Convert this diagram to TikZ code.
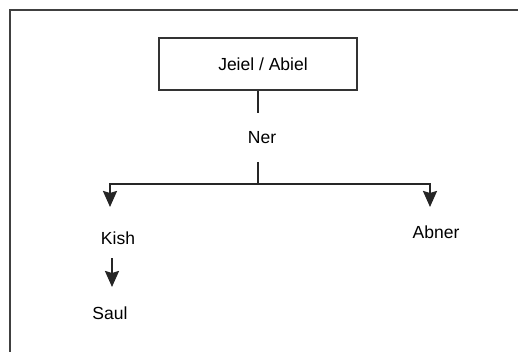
\documentclass[tikz,border=0pt]{standalone}
\usepackage{fontspec}
\setmainfont{Liberation Sans}
\usetikzlibrary{arrows.meta}

\tikzset{
  person/.style={font=\fontsize{17.5}{20}\selectfont, text=black, inner sep=2pt},
  rootbox/.style={person, draw=black!80, line width=2pt, minimum width=198pt, minimum height=52pt},
  line/.style={draw=black!85, line width=2.2pt},
  arr/.style={line, -{Stealth[inset=2pt,width=14pt,length=16pt]}}
}

\begin{document}
\begin{tikzpicture}[x=1pt,y=-1pt]
			\useasboundingbox (0,0) rectangle (518,352);
			\draw[black!75, line width=2pt] (10,352) -- (10,10) -- (518,10);
			\node[rootbox] (jeiel) at (258,64) {\hspace{10pt}Jeiel / Abiel};
			\node[person] (ner) at (262,138) {Ner};
			\node[person] (kish) at (118,238) {Kish};
			\node[person] (abner) at (436,232) {Abner};
			\node[person] (saul) at (110,313) {Saul};
			\coordinate (top) at (258,113);
			\coordinate (mid) at (258,162);
			\coordinate (fork) at (258,184);
			\coordinate (kishtip) at (110,207);
			\coordinate (abnertip) at (430,207);
			\coordinate (kishout) at (112,258);
			\coordinate (saultip) at (112,287);
			\draw[line] (jeiel.south) -- (top);
			\draw[line] (mid) -- (fork);
			\draw[arr] (fork) -| (kishtip);
			\draw[arr] (fork) -| (abnertip);
			\draw[arr] (kishout) -- (saultip);
		\end{tikzpicture}
\end{document}
